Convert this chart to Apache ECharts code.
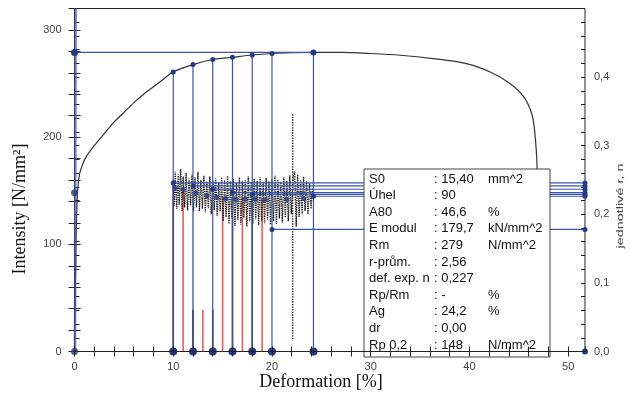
<!DOCTYPE html>
<html><head><meta charset="utf-8">
<script src="https://cdn.jsdelivr.net/npm/echarts@6/dist/echarts.min.js"></script>
<style>html,body{margin:0;padding:0;background:#fff}#c{width:630px;height:394px}</style>
</head><body><div id="c"></div>
<script>
// stress-strain curve (left axis, N/mm^2)
const curveX = [0, 0.15, 0.3, 0.5, 0.8, 1.2, 2, 3, 4, 5, 6, 7, 8, 9, 10, 12, 14, 16, 18, 20, 22, 24.2, 27, 30, 33, 36.3, 39.7, 42.1, 44.1, 45.5, 46.3, 46.6, 46.85, 47];
const curveY = [0, 100, 148, 165, 174, 182, 192, 203, 214, 223, 232, 240, 247, 254, 261, 267.7, 272.4, 274.5, 276.6, 278, 278.7, 279, 279, 278, 276.4, 273.3, 268.6, 260.8, 250, 237.5, 222, 206, 170, 0];
// noisy r measurement (right axis)
const noiseX = [10.0,10.1,10.2,10.35,10.5,10.6,10.75,10.9,11.0,11.15,11.3,11.45,11.6,11.75,11.9,12.05,12.2,12.35,12.5,12.65,12.8,12.95,13.1,13.25,13.4,13.55,13.7,13.85,14.0,14.15,14.3,14.45,14.6,14.75,14.9,15.05,15.2,15.35,15.5,15.65,15.8,15.95,16.1,16.25,16.4,16.55,16.7,16.85,17.0,17.15,17.3,17.45,17.6,17.75,17.9,18.05,18.2,18.35,18.5,18.65,18.8,18.95,19.1,19.25,19.4,19.55,19.7,19.85,20.0,20.15,20.3,20.45,20.6,20.75,20.9,21.05,21.2,21.35,21.5,21.65,21.8,21.95,22.15,22.3,22.45,22.6,22.75,22.9,23.05,23.2,23.35,23.5,23.65,23.8,23.95,24.1,24.2];
const noiseY = [0.250,0.212,0.262,0.208,0.258,0.214,0.266,0.205,0.255,0.210,0.260,0.206,0.252,0.213,0.258,0.204,0.254,0.210,0.262,0.205,0.250,0.208,0.256,0.203,0.248,0.209,0.255,0.200,0.250,0.206,0.252,0.198,0.247,0.204,0.254,0.190,0.250,0.196,0.256,0.186,0.248,0.194,0.252,0.183,0.246,0.192,0.254,0.185,0.248,0.195,0.250,0.182,0.255,0.190,0.247,0.186,0.252,0.193,0.249,0.184,0.254,0.190,0.247,0.187,0.253,0.192,0.248,0.185,0.251,0.190,0.256,0.186,0.250,0.194,0.247,0.188,0.254,0.195,0.249,0.190,0.257,0.200,0.255,0.262,0.182,0.258,0.196,0.250,0.200,0.255,0.205,0.248,0.200,0.246,0.208,0.238,0.225];
// single outlier spike in the r record (right axis)
const spikeX = 22.1, spikeHigh = 0.346, spikeLow = 0.016;
// average r dots (right axis)
const avgX = [10.2, 11.0, 12.3, 13.4, 14.4, 15.3, 16.3, 17.3, 18.3, 19.3, 21.5, 23.2];
const avgY = [0.238, 0.236, 0.231, 0.227, 0.225, 0.223, 0.222, 0.222, 0.222, 0.221, 0.222, 0.223];
// impulse lines (left axis)
const impX = [10, 11, 12, 12, 13, 14, 15, 16, 17, 18, 19];
const impTop = [158, 150, 150, 39, 39, 39, 144, 143, 143, 143, 143];
const impKind = ['dark','red','faint','dark','red','dark','red','dark','red','dark','red'];
// marked points on the curve
const markX = [10, 12, 14, 16, 18, 20, 24.2];
const markTop = [260.8, 267.7, 272.4, 274.5, 276.6, 278, 279];
// r values carried to the right axis
const rX = [10, 12, 14, 16, 18, 24.2, 20];
const rVal = [0.2457, 0.2413, 0.2365, 0.2317, 0.229, 0.2263, 0.178];
const Rm = 279, Ag = 24.2, Rp02 = 148;
// info box
const boxLabels = ['S0','Úhel','A80','E modul','Rm','r-prům.','def. exp. n','Rp/Rm','Ag','dr','Rp 0,2'];
const boxValues = [': 15,40',': 90',': 46,6',': 179,7',': 279',': 2,56',': 0,227',': -',': 24,2',': 0,00',': 148'];
const boxUnits = ['mm^2','','%','kN/mm^2','N/mm^2','','','%','%','','N/mm^2'];
const xTicks = [0, 10, 20, 30, 40, 50];
const leftTicks = [0, 100, 200, 300];
const rightTicks = [0, 0.1, 0.2, 0.3, 0.4];

const XMAX = 51.7, YMAX = 320, RMAX = 0.5;
const BLUE = '#3a56aa', NAVY = '#26388a';
const kindColor = {dark:'#3e2a2a', red:'#f05a5a', faint:'#dddddd'};
const sans = 'Liberation Sans, Arial, sans-serif';
const serif = 'Liberation Serif, Times New Roman, serif';

const series = [];
series.push({type:'line', data: curveX.map((x,i)=>[x,curveY[i]]), showSymbol:false, smooth:0.3,
  lineStyle:{color:'#333', width:1.2}, z:2, silent:true});
series.push({type:'line', data:[[0.05,0],[0.12,YMAX]], showSymbol:false, lineStyle:{color:'rgba(58,86,170,0.7)', width:2.5}, z:3, clip:false});
impX.forEach((x,i)=>series.push({type:'line', data:[[x,0],[x,impTop[i]]], showSymbol:false,
  lineStyle:{color:kindColor[impKind[i]], width:1.6}, z: impKind[i]==='faint'?1:3}));
series.push({type:'line', yAxisIndex:1, data: noiseX.map((x,i)=>[x,noiseY[i]]), showSymbol:false,
  lineStyle:{color:'#111', width:1.3, type:[1.3,1]}, z:4});
series.push({type:'line', yAxisIndex:1, data:[[spikeX,spikeHigh],[spikeX,spikeLow]], showSymbol:false,
  lineStyle:{color:'#111', width:1.3, type:[1.3,1.3]}, z:4});
rX.forEach((x,i)=>series.push({type:'line', yAxisIndex:1, data:[[x,rVal[i]],[XMAX,rVal[i]]], symbol:'circle', symbolSize:5,
  itemStyle:{color:NAVY}, lineStyle:{color:BLUE, width:1.2}, z:5, clip:false}));
markX.forEach((x,i)=>series.push({type:'line', data:[{value:[x,0],symbolSize:8},{value:[x,markTop[i]],symbolSize:5}], symbol:'circle',
  itemStyle:{color:NAVY}, lineStyle:{color:BLUE, width:1.2}, z:5, clip:false}));
series.push({type:'line', data:[{value:[0,Rm],symbolSize:7},{value:[Ag,Rm],symbolSize:6}], symbol:'circle',
  itemStyle:{color:NAVY}, lineStyle:{color:BLUE, width:1.2}, z:5, clip:false});
series.push({type:'line', data:[{value:[10,0],symbolSize:0},{value:[XMAX,0],symbolSize:6}], symbol:'circle',
  itemStyle:{color:NAVY}, lineStyle:{color:BLUE, width:1.2}, z:5, clip:false});
series.push({type:'scatter', data:[[0,Rp02],[0,0]], symbolSize:7, itemStyle:{color:NAVY}, z:6, clip:false});
series.push({type:'scatter', yAxisIndex:1, data: avgX.map((x,i)=>[x,avgY[i]]), symbolSize:5, itemStyle:{color:NAVY}, z:6});

const lblStyle = {color:'#444', fontSize:11, fontFamily:sans};
const xFmt = v => xTicks.includes(v) ? String(v) : '';
const lFmt = v => leftTicks.includes(v) ? String(v) : '';
const rFmt = v => { const t = Math.round(v*100); return rightTicks.some(r=>Math.round(r*100)===t) ? (t/100).toFixed(1).replace('.',',') : ''; };

const graphic = [
  {type:'rect', shape:{x:364, y:169, width:186, height:188}, style:{fill:'#fff', stroke:'#444', lineWidth:1}, z:50},
  {type:'text', x:20, y:209, rotation:Math.PI/2, style:{text:'Intensity [N/mm²]', font:'18px '+serif, fill:'#111', textAlign:'center', textVerticalAlign:'middle'}, z:50},
  {type:'text', x:321, y:382, style:{text:'Deformation [%]', font:'18px '+serif, fill:'#111', textAlign:'center', textVerticalAlign:'middle'}, z:50},
  {type:'text', x:621, y:206, rotation:Math.PI/2, scaleX:1.6, style:{text:'jednotlivé r, n', font:'9px '+sans, fill:'#444', textAlign:'center', textVerticalAlign:'middle'}, z:50}
];
boxLabels.forEach((t,i)=>{
  const y = 179 + i*16.6;
  graphic.push({type:'text', x:369, y, style:{text:t, font:'13px '+sans, fill:'#111', textVerticalAlign:'middle'}, z:51});
  graphic.push({type:'text', x:434, y, style:{text:boxValues[i], font:'13px '+sans, fill:'#111', textVerticalAlign:'middle'}, z:51});
  if (boxUnits[i]) graphic.push({type:'text', x:488, y, style:{text:boxUnits[i], font:'13px '+sans, fill:'#111', textVerticalAlign:'middle'}, z:51});
});

const axLine = {show:true, lineStyle:{color:'#222', width:1}};
const chart = echarts.init(document.getElementById('c'), null, {renderer:'canvas'});
chart.setOption({
  animation:false,
  backgroundColor:'#fff',
  grid:{left:74.5, right:45, top:8.5, bottom:42.5, show:true, borderColor:'#222', borderWidth:1, containLabel:false},
  xAxis:[
    {type:'value', min:0, max:XMAX, interval:2, z:60, axisLine:axLine, splitLine:{show:false},
     axisTick:{show:true, length:5, lineStyle:{color:'#222'}}, axisLabel:{...lblStyle, margin:10, formatter:xFmt, showMaxLabel:false}},
    {type:'value', min:0, max:XMAX, interval:2, z:60, position:'bottom', axisLine:{show:false}, splitLine:{show:false},
     axisTick:{show:true, inside:true, length:5, lineStyle:{color:'#222'}}, axisLabel:{show:false}}
  ],
  yAxis:[
    {type:'value', min:0, max:YMAX, interval:20, position:'left', axisLine:axLine, splitLine:{show:false},
     axisTick:{show:true, length:6, lineStyle:{color:'#222'}}, axisLabel:{...lblStyle, margin:13, formatter:lFmt}},
    {type:'value', min:0, max:RMAX, interval:0.02, position:'right', axisLine:axLine, splitLine:{show:false},
     axisTick:{show:true, length:5, lineStyle:{color:'#222'}}, axisLabel:{...lblStyle, margin:9, formatter:rFmt}},
    {type:'value', min:0, max:YMAX, interval:20, position:'left', axisLine:{show:false}, splitLine:{show:false},
     axisTick:{show:true, inside:true, length:6, lineStyle:{color:'#222'}}, axisLabel:{show:false}},
    {type:'value', min:0, max:RMAX, interval:0.02, position:'right', axisLine:{show:false}, splitLine:{show:false},
     axisTick:{show:true, inside:true, length:4, lineStyle:{color:'#222'}}, axisLabel:{show:false}}
  ],
  series,
  graphic
});
</script>
</body></html>
